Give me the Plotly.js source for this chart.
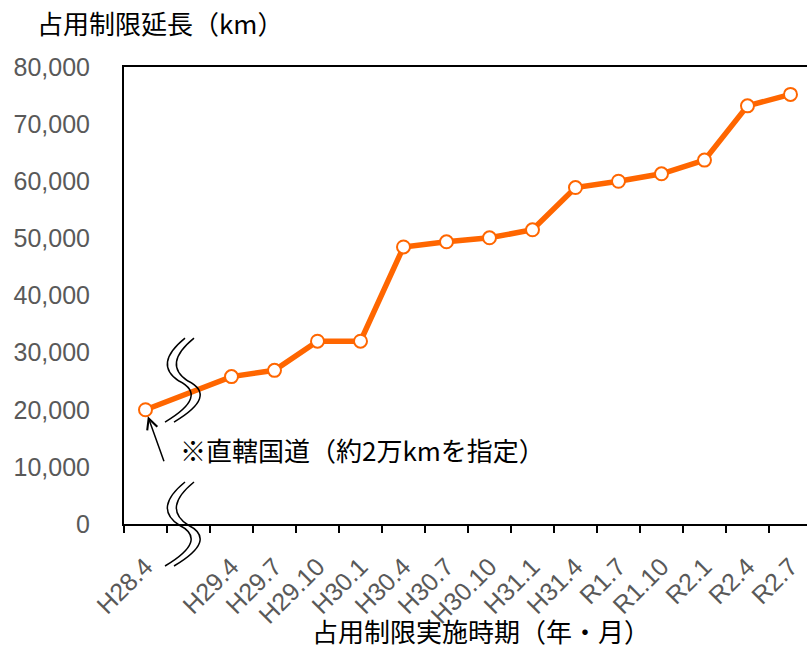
<!DOCTYPE html>
<html><head><meta charset="utf-8">
<script src="https://cdn.plot.ly/plotly-3.0.1.min.js"></script>
<style>html,body{margin:0;padding:0;background:#fff;} #chart{width:807px;height:649px;}</style>
</head><body><div id="chart"></div>
<script>
// ---- data ----
const periods = ["H28.4","H29.4","H29.7","H29.10","H30.1","H30.4","H30.7","H30.10","H31.1","H31.4","R1.7","R1.10","R2.1","R2.4","R2.7"];
const lengthKm = [20000,25800,26900,32000,32000,48500,49400,50100,51500,58900,60000,61300,63700,73200,75200];
const axisCategories = ["H28.4"," ","H29.4","H29.7","H29.10","H30.1","H30.4","H30.7","H30.10","H31.1","H31.4","R1.7","R1.10","R2.1","R2.4","R2.7"];
const yTitle = "占用制限延長（km）";
const xTitle = "占用制限実施時期（年・月）";
const noteText = "※直轄国道（約2万kmを指定）";

const ORANGE = "#FF6600";
const JP = "Noto Sans CJK JP, sans-serif";
const NUM = "Liberation Sans, Arial, sans-serif";

const trace = {
  type: "scatter", mode: "lines+markers",
  x: periods, y: lengthKm,
  line: {color: ORANGE, width: 5.5},
  marker: {symbol: "circle", size: 13, color: "#ffffff", line: {color: ORANGE, width: 2}},
  cliponaxis: false, hoverinfo: "skip"
};

function wave(dx) {
  const p = [[5,-42],[-27,-16],[-1,1],[29,16],[-15,42]].map(([x,y]) => [x+dx, -y]);
  return `M${p[0]} Q${p[1]} ${p[2]} Q${p[3]} ${p[4]}`;
}
const breaks = [];
[0.315, 0].forEach(ya => {
  [0, 9].forEach(dx => {
    breaks.push({type: "path", xref: "paper", yref: "paper", xsizemode: "pixel", ysizemode: "pixel",
      xanchor: 0.082, yanchor: ya, path: wave(dx), line: {color: "#000", width: 1.5}, layer: "above"});
  });
});

const firstIdx = axisCategories.indexOf(periods[0]);

const layout = {
  width: 807, height: 649,
  margin: {l: 124, r: 0, t: 67, b: 125},
  paper_bgcolor: "#fff", plot_bgcolor: "#fff",
  showlegend: false,
  xaxis: {
    type: "category", categoryorder: "array", categoryarray: axisCategories,
    range: [-0.5, 15.384],
    showline: true, linecolor: "#000", linewidth: 2, mirror: true,
    ticks: "outside", tickson: "boundaries", ticklen: 7, tickwidth: 2, tickcolor: "#000",
    tickangle: -45, tickfont: {family: NUM, size: 25, color: "#595959"},
    ticklabelstandoff: 16,
    showgrid: false, zeroline: false, fixedrange: true
  },
  yaxis: {
    range: [0, 80000], dtick: 10000, tickformat: ",d",
    showline: true, linecolor: "#000", linewidth: 2,
    ticks: "", ticklabelstandoff: 27,
    tickfont: {family: NUM, size: 25, color: "#595959"},
    showgrid: false, zeroline: false, fixedrange: true
  },
  shapes: breaks,
  annotations: [
    {xref: "paper", yref: "paper", x: -0.13, y: 1.098, xanchor: "left", yanchor: "middle",
     text: yTitle, showarrow: false, font: {family: JP, size: 26, color: "#000"}},
    {xref: "paper", yref: "paper", x: 0.523, y: -0.234, xanchor: "center", yanchor: "middle",
     text: xTitle, showarrow: false, borderpad: 0, font: {family: JP, size: 26, color: "#000"}},
    {xref: "paper", yref: "paper", x: 0.079, y: 0.162, xanchor: "left", yanchor: "middle",
     text: noteText, showarrow: false, font: {family: JP, size: 26, color: "#000"}},
    {xref: "x", yref: "y", x: firstIdx, y: lengthKm[0], text: "", showarrow: true,
     ax: 19, ay: 53, arrowhead: 5, arrowsize: 1.4, arrowwidth: 1.5, arrowcolor: "#000", standoff: 7}
  ]
};

Plotly.newPlot("chart", [trace], layout, {staticPlot: true, displayModeBar: false});
</script>
</body></html>
